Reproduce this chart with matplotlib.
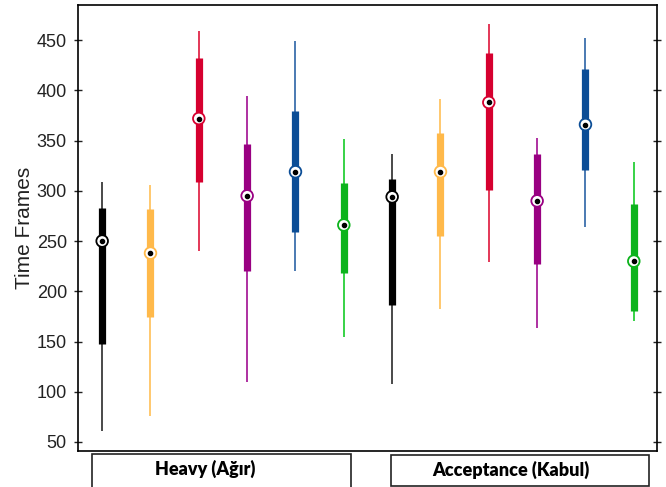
import numpy as np
import matplotlib
matplotlib.use("Agg")
import matplotlib.pyplot as plt
from matplotlib.patches import Rectangle

# box summaries per condition: whisker low, q1, median, q3, whisker high
groups = ["Heavy (Ağır)", "Acceptance (Kabul)"]
whisker_low = [61, 76, 240, 110, 220, 154, 108, 182, 229, 163, 264, 170]
q1 = [148, 174, 309, 220, 259, 218, 186, 255, 301, 227, 321, 180]
median = [250, 238, 372, 295, 319, 266, 294, 319, 388, 290, 366, 230]
q3 = [283, 282, 432, 347, 379, 308, 312, 358, 437, 337, 421, 287]
whisker_high = [309, 306, 459, 394, 449, 352, 337, 391, 466, 353, 452, 329]

box_colors = ["#000000", "#FFB94A", "#D6002F", "#990082", "#0B4D96", "#0CB31C"]
whisker_colors = ["#3a3a3a", "#FFC462", "#E0284A", "#A8209A", "#3D6FAD", "#27CF38"]

plt.rcParams['font.family'] = ['Liberation Sans', 'DejaVu Sans']

fig = plt.figure(figsize=(6.66, 4.87), dpi=100)
ax = fig.add_axes([78 / 666, 36 / 487, (657 - 78) / 666, (451 - 5) / 487])

x = np.arange(1, len(median) + 1)
cols = [box_colors[i % 6] for i in range(len(x))]
wcols = [whisker_colors[i % 6] for i in range(len(x))]

ax.vlines(x, whisker_low, whisker_high, colors=wcols, linewidth=1.3, zorder=1)
ax.vlines(x, q1, q3, colors=cols, linewidth=5.2, zorder=2)
ax.scatter(x, median, s=70, facecolor="white", edgecolor=cols, linewidth=1.3, zorder=3)
ax.scatter(x, median, s=9, color="black", zorder=4)

ax.set_xlim(0.5, 12.48)
ax.set_ylim(41, 485)
ax.set_yticks(np.arange(50, 451, 50))
ax.set_xticks([])
ax.tick_params(axis="y", direction="inout", length=6, width=1, labelsize=13,
               right=True, pad=5, colors="#222222")
for s in ax.spines.values():
    s.set_linewidth(1.2)
ax.set_ylabel("Time Frames", fontsize=15, labelpad=2, color="#222222")

# group captions below the axes (frame edges in pixels, text centre in pixels)
boxes = [(92, 351, 454, 495), (391, 649, 455, 486)]
text_x = [205, 511]
for label, (x0, x1, y0, y1), tx in zip(groups, boxes, text_x):
    rect = Rectangle((x0 / 666, 1 - y1 / 487), (x1 - x0) / 666, (y1 - y0) / 487,
                     transform=fig.transFigure, fill=False, edgecolor="#222222",
                     linewidth=1.2, clip_on=False)
    fig.add_artist(rect)
    fig.text(tx / 666, 1 - (y0 + 15) / 487, label, ha="center", va="center",
             fontsize=13, fontweight="heavy", family=["Lato", "DejaVu Sans"])

fig.savefig("out.png", dpi=100)
